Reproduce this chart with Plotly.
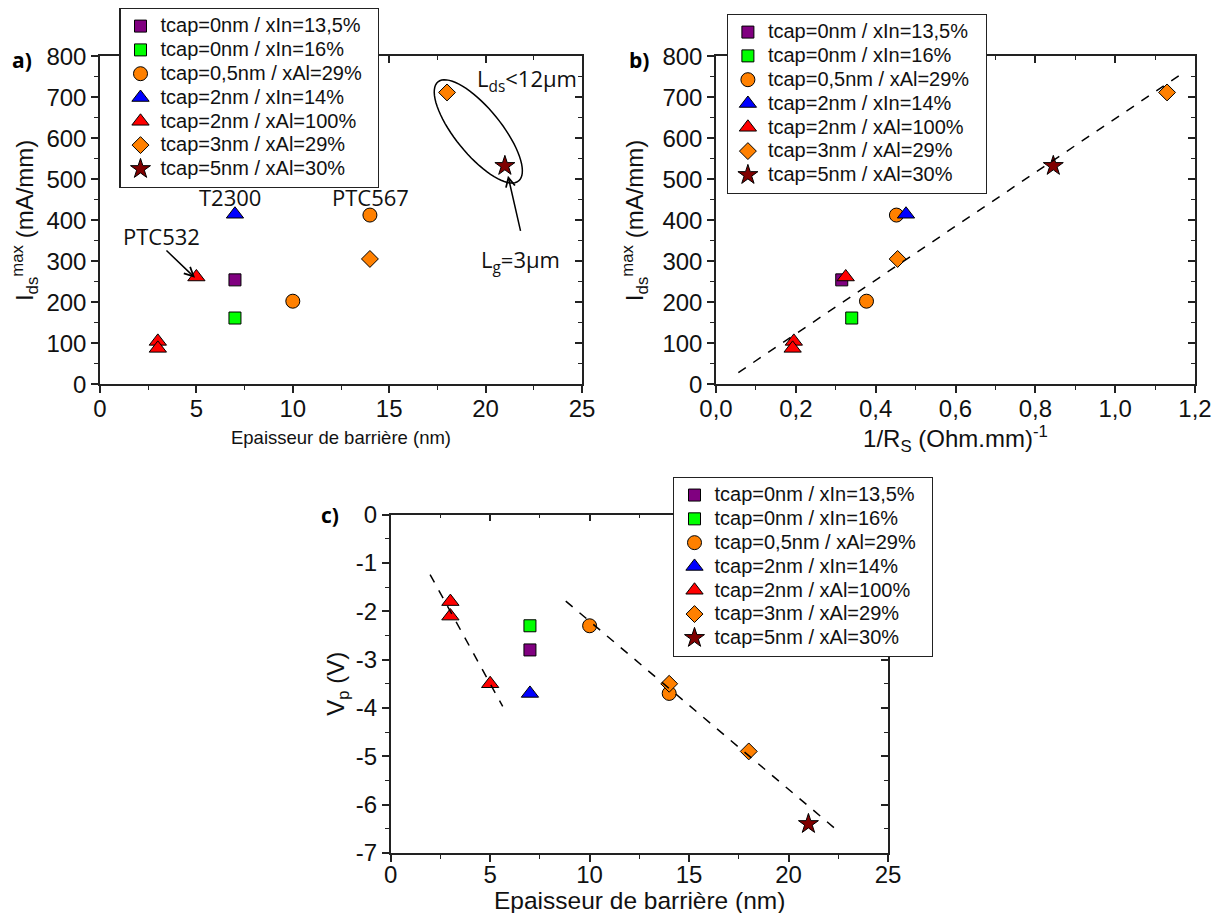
import numpy as np
import plotly.graph_objects as go

# The page body has an 8px margin: draw the figure 16px smaller and shift by 8px.
OFF = 8
W, H = 1225 - 2 * OFF, 921 - 2 * OFF

# ---------------- data ----------------
series_names = [
    "tcap=0nm / xIn=13,5%",
    "tcap=0nm / xIn=16%",
    "tcap=0,5nm / xAl=29%",
    "tcap=2nm / xIn=14%",
    "tcap=2nm / xAl=100%",
    "tcap=3nm / xAl=29%",
    "tcap=5nm / xAl=30%",
]
series_symbols = ["square", "square", "circle", "triangle-up", "triangle-up", "diamond", "star"]
series_colors = ["#800080", "#00FF00", "#FF8000", "#0000FF", "#FF0000", "#FF8000", "#800000"]
series_sizes = [12, 12, 14, 15, 15, 13, 15]

# barrier thickness (nm)
barrier_nm = [[7], [7], [10, 14], [7], [3, 3, 5], [14, 18], [21]]
# Ids max (mA/mm)
ids_max = [[255], [162], [203, 413], [415], [105, 88, 262], [306, 712], [533]]
# 1/Rs (Ohm.mm)^-1
inv_rs = [[0.315], [0.34], [0.377, 0.452], [0.476], [0.195, 0.192, 0.325], [0.455, 1.13], [0.845]]
# pinch-off voltage (V)
vp = [[-2.8], [-2.3], [-2.3, -3.7], [-3.7], [-1.8, -2.1, -3.5], [-3.5, -4.9], [-6.4]]

# dashed guide lines
fit_b_x = [0.056, 1.16]
fit_b_y = [29, 753]
fit_c1_x = [1.98, 5.63]
fit_c1_y = [-1.24, -3.97]
fit_c2_x = [8.8, 22.55]
fit_c2_y = [-1.79, -6.57]

# tick labels of panel c (hyphen minus as in the original)
vp_tickvals = [0, -1, -2, -3, -4, -5, -6, -7]
vp_ticktext = ["0", "-1", "-2", "-3", "-4", "-5", "-6", "-7"]

# ---------------- layout geometry (screen pixels) ----------------
A_BOX = (100, 582, 53.5, 382.7)   # left, right, top, bottom
B_BOX = (716, 1195, 53.5, 382.7)
C_BOX = (390.7, 888, 513.3, 852.7)


def pxx(px):
    return (px - OFF) / W


def pxy(py):
    return 1 - (py - OFF) / H


def dom(box):
    l, r, t, b = box
    return [pxx(l), pxx(r)], [pxy(b), pxy(t)]


AXC = "#222222"
SANS = "Liberation Sans, Arial"
TICKFONT = dict(family=SANS, size=24, color="#111111")
LEGFONT = dict(family=SANS, size=16.0, color="#111111")
ANNFONT = dict(family="Open Sans", size=22, color="#111111")

fig = go.Figure()

for leg, xs_all, ys_all, xa, ya in [
    ("legend", barrier_nm, ids_max, "x", "y"),
    ("legend2", inv_rs, ids_max, "x2", "y2"),
    ("legend3", barrier_nm, vp, "x3", "y3"),
]:
    for i, name in enumerate(series_names):
        fig.add_trace(go.Scatter(
            x=xs_all[i], y=ys_all[i], mode="markers",
            name='<span style="font-size:20px">%s&nbsp;&nbsp;</span>' % name,
            xaxis=xa, yaxis=ya, legend=leg,
            marker=dict(symbol=series_symbols[i], color=series_colors[i],
                        size=series_sizes[i], line=dict(color="#000000", width=1)),
            hoverinfo="x+y",
        ))

dash_line = dict(color="#000000", width=1.5, dash="dash")
fig.add_trace(go.Scatter(x=fit_b_x, y=fit_b_y, mode="lines", line=dash_line,
                         xaxis="x2", yaxis="y2", showlegend=False, hoverinfo="skip"))
fig.add_trace(go.Scatter(x=fit_c1_x, y=fit_c1_y, mode="lines", line=dash_line,
                         xaxis="x3", yaxis="y3", showlegend=False, hoverinfo="skip"))
fig.add_trace(go.Scatter(x=fit_c2_x, y=fit_c2_y, mode="lines", line=dash_line,
                         xaxis="x3", yaxis="y3", showlegend=False, hoverinfo="skip"))

# dummy traces for overlay (mirror) axes
for xa, ya in [("x4", "y4"), ("x5", "y5"), ("x6", "y6")]:
    fig.add_trace(go.Scatter(x=[None], y=[None], mode="markers", xaxis=xa, yaxis=ya,
                             showlegend=False, hoverinfo="skip"))


def main_x(box, rng, dtick, mdtick, title, tsize, standoff, fmt=None, lstand=-5):
    d = dict(domain=dom(box)[0], range=rng, dtick=dtick, tick0=rng[0],
             ticks="outside", ticklen=7, tickwidth=1.5, tickcolor=AXC,
             minor=dict(ticks="outside", ticklen=4, tickwidth=1.2, tickcolor=AXC, dtick=mdtick),
             showline=True, linecolor=AXC, linewidth=1.5, showgrid=False, zeroline=False,
             tickfont=TICKFONT, ticklabelstandoff=lstand,
             title=dict(text=title, font=dict(family=SANS, size=tsize, color="#111111"),
                        standoff=standoff),
             automargin=False, fixedrange=True)
    if fmt:
        d["tickformat"] = fmt
    return d


def main_y(box, rng, dtick, mdtick, title, tsize, standoff):
    return dict(domain=dom(box)[1], range=rng, dtick=dtick, tick0=rng[0],
                ticks="outside", ticklen=7, tickwidth=1.5, tickcolor=AXC,
                minor=dict(ticks="outside", ticklen=4, tickwidth=1.2, tickcolor=AXC, dtick=mdtick),
                showline=True, linecolor=AXC, linewidth=1.5, showgrid=False, zeroline=False,
                tickfont=TICKFONT,
                title=dict(text=title, font=dict(family=SANS, size=tsize, color="#111111"),
                           standoff=standoff),
                automargin=False, fixedrange=True)


def over_x(base, anchor, rng, dtick, mdtick):
    return dict(overlaying=base, side="top", anchor=anchor, range=rng, dtick=dtick, tick0=rng[0],
                ticks="inside", ticklen=7, tickwidth=1.5, tickcolor=AXC,
                minor=dict(ticks="inside", ticklen=4, tickwidth=1.2, tickcolor=AXC, dtick=mdtick),
                showline=True, linecolor=AXC, linewidth=1.5, showgrid=False, zeroline=False,
                showticklabels=False, automargin=False, fixedrange=True)


def over_y(base, anchor, rng, dtick, mdtick):
    return dict(overlaying=base, side="right", anchor=anchor, range=rng, dtick=dtick, tick0=rng[0],
                ticks="inside", ticklen=7, tickwidth=1.5, tickcolor=AXC,
                minor=dict(ticks="inside", ticklen=4, tickwidth=1.2, tickcolor=AXC, dtick=mdtick),
                showline=True, linecolor=AXC, linewidth=1.5, showgrid=False, zeroline=False,
                showticklabels=False, automargin=False, fixedrange=True)


A_XR, A_YR = [0, 25], [0, 800]
B_XR, B_YR = [0, 1.2], [0, 800]
C_XR, C_YR = [0, 25], [-7, 0]

ids_title = "I<sub>ds</sub><sup>max</sup> (mA/mm)"
thick_title = "Epaisseur de barrière (nm)"

yaxis3 = dict(main_y(C_BOX, C_YR, 1, 0.5, "V<sub>p</sub> (V)", 24, 4), anchor="x3")
yaxis3.update(tickmode="array", tickvals=vp_tickvals, ticktext=vp_ticktext)

fig.update_layout(
    width=W, height=H,
    margin=dict(l=0, r=0, t=0, b=0),
    paper_bgcolor="white", plot_bgcolor="white",
    separators=", ",
    showlegend=True,
    xaxis=dict(main_x(A_BOX, A_XR, 5, 2.5, thick_title, 18.5, 10), anchor="y"),
    yaxis=dict(main_y(A_BOX, A_YR, 100, 50, ids_title, 24, 12), anchor="x"),
    xaxis2=dict(main_x(B_BOX, B_XR, 0.2, 0.1, "1/R<sub>S</sub> (Ohm.mm)<sup>-1</sup>", 24, 7, ".1f"),
                anchor="y2"),
    yaxis2=dict(main_y(B_BOX, B_YR, 100, 50, ids_title, 24, 12), anchor="x2"),
    xaxis3=dict(main_x(C_BOX, C_XR, 5, 2.5, "", 24, 2, lstand=-7), anchor="y3"),
    yaxis3=yaxis3,
    xaxis4=over_x("x", "y4", A_XR, 5, 2.5),
    yaxis4=over_y("y", "x4", A_YR, 100, 50),
    xaxis5=over_x("x2", "y5", B_XR, 0.2, 0.1),
    yaxis5=over_y("y2", "x5", B_YR, 100, 50),
    xaxis6=over_x("x3", "y6", C_XR, 5, 2.5),
    yaxis6=over_y("y3", "x6", C_YR, 1, 0.5),
)

leg_common = dict(bgcolor="white", bordercolor="#222222", borderwidth=1.2, font=LEGFONT,
                  xanchor="left", yanchor="top", itemsizing="trace", tracegroupgap=0)
fig.update_layout(
    legend=dict(leg_common, x=pxx(119.3), y=pxy(4.5)),
    legend2=dict(leg_common, x=pxx(726.7), y=pxy(11)),
    legend3=dict(leg_common, x=pxx(673.3), y=pxy(475.5)),
)

# ---------------- annotations ----------------
def a_data(px, py):
    l, r, t, b = A_BOX
    x = A_XR[0] + (px - l) / (r - l) * (A_XR[1] - A_XR[0])
    y = A_YR[0] + (b - py) / (b - t) * (A_YR[1] - A_YR[0])
    return x, y


anns = []
for txt, px, py in [("a)", 21.7, 57), ("b)", 639, 57), ("c)", 330, 514)]:
    anns.append(dict(text="<b>%s</b>" % txt, x=pxx(px), y=pxy(py), xref="paper", yref="paper",
                     showarrow=False, font=dict(family="Open Sans", size=21, color="#000000"),
                     xanchor="center", yanchor="middle"))

# x title of panel c (placed as text so that it is not squeezed by the page edge)
anns.append(dict(text=thick_title, x=pxx((C_BOX[0] + C_BOX[1]) / 2), y=pxy(900),
                 xref="paper", yref="paper", showarrow=False,
                 font=dict(family=SANS, size=24.5, color="#111111"),
                 xanchor="center", yanchor="middle"))

for txt, x, y in [("T2300", 6.75, 456), ("PTC567", 14.05, 456), ("PTC532", 3.2, 363),
                  ("L<sub>g</sub>=3µm", 21.8, 302)]:
    anns.append(dict(text=txt, x=x, y=y, xref="x", yref="y", showarrow=False, font=ANNFONT,
                     xanchor="center", yanchor="middle"))
anns.append(dict(text="L<sub>ds</sub>&lt;12µm", x=24.85, y=742, xref="x", yref="y", showarrow=False,
                 font=ANNFONT, xanchor="right", yanchor="middle"))

# arrows
for (hx, hy), (tx, ty) in [((4.93, 260), (3.37, 330)), ((21.16, 509), (21.83, 371))]:
    anns.append(dict(x=hx, y=hy, ax=tx, ay=ty, xref="x", yref="y", axref="x", ayref="y",
                     showarrow=True, arrowhead=5, arrowsize=1.2, arrowwidth=1.5,
                     arrowcolor="#000000", text=""))
fig.update_layout(annotations=anns)

# ellipse around the two long-channel devices (panel a)
cx, cy, ra, rb, ang = 478.3, 128.8, 64.0, 23.0, np.deg2rad(51)
t = np.linspace(0, 2 * np.pi, 73)
ex = cx + ra * np.cos(t) * np.cos(ang) - rb * np.sin(t) * np.sin(ang)
ey = cy + ra * np.cos(t) * np.sin(ang) + rb * np.sin(t) * np.cos(ang)
pts = [a_data(px, py) for px, py in zip(ex, ey)]
path = "M " + " L ".join("%.4f,%.3f" % p for p in pts) + " Z"
fig.add_shape(type="path", path=path, xref="x", yref="y",
              line=dict(color="#000000", width=1.5), fillcolor="rgba(0,0,0,0)")

fig.write_html("out.html")
